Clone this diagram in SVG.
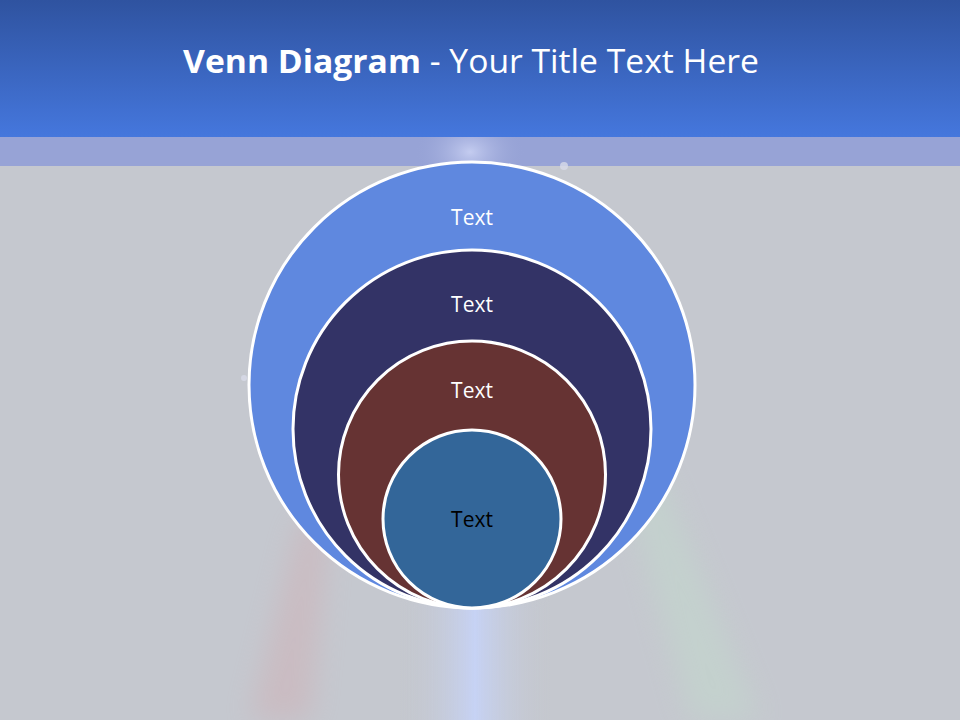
<svg xmlns="http://www.w3.org/2000/svg" width="960" height="720" viewBox="0 0 960 720">
<defs>
<linearGradient id="hdr" x1="0" y1="0" x2="0" y2="1">
<stop offset="0" stop-color="#2f53a0"/>
<stop offset="1" stop-color="#4577dd"/>
</linearGradient>
<radialGradient id="glow" cx="0.5" cy="0.5" r="0.5">
<stop offset="0" stop-color="#c4ccf0"/>
<stop offset="1" stop-color="#97a3d6" stop-opacity="0"/>
</radialGradient>
<linearGradient id="beam" x1="0" y1="0" x2="1" y2="0">
<stop offset="0" stop-color="#c5c8cf" stop-opacity="0"/>
<stop offset="0.5" stop-color="#c6d2f4"/>
<stop offset="1" stop-color="#c5c8cf" stop-opacity="0"/>
</linearGradient>
<linearGradient id="beamV" x1="0" y1="0" x2="0" y2="1">
<stop offset="0" stop-color="#fff" stop-opacity="0"/>
<stop offset="0.3" stop-color="#fff" stop-opacity="1"/>
<stop offset="1" stop-color="#fff" stop-opacity="1"/>
</linearGradient>
<mask id="bm"><rect x="400" y="560" width="150" height="160" fill="url(#beamV)"/></mask>
<clipPath id="band"><rect x="0" y="137" width="960" height="29"/></clipPath>
<filter id="soft" x="-50%" y="-50%" width="200%" height="200%"><feGaussianBlur stdDeviation="14"/></filter>
<style>
.ring{stroke:#ffffff;stroke-width:3}
.lbl{font-family:"Open Sans","Liberation Sans",sans-serif;font-size:21px;text-anchor:middle;dominant-baseline:central}
</style>
</defs>
<rect width="960" height="720" fill="#c5c8cf"/>
<rect x="400" y="560" width="150" height="160" fill="url(#beam)" mask="url(#bm)"/>
<path d="M300 520 L250 720 L310 720 L330 520 Z" fill="#d6a0a4" opacity="0.3" filter="url(#soft)"/>
<path d="M620 470 L690 720 L760 720 L660 470 Z" fill="#c2dccc" opacity="0.45" filter="url(#soft)"/>
<rect x="0" y="0" width="960" height="137" fill="url(#hdr)"/>
<rect x="0" y="137" width="960" height="29" fill="#97a3d6"/>
<ellipse cx="470" cy="152" rx="55" ry="40" fill="url(#glow)" clip-path="url(#band)"/>
<circle cx="564" cy="166" r="4" fill="#d8dbe8" opacity="0.8"/>
<circle cx="244" cy="378" r="3" fill="#d8dbe8" opacity="0.8"/>
<text x="471" y="73" font-family="Open Sans, Liberation Sans, sans-serif" font-size="32" fill="#ffffff" text-anchor="middle" textLength="576" lengthAdjust="spacingAndGlyphs"><tspan font-weight="bold">Venn Diagram</tspan> - Your Title Text Here</text>
<g id="ring1"><circle class="ring" cx="472" cy="385" r="223" fill="#5f88df"/><text class="lbl" x="472" y="217" fill="#ffffff">Text</text></g>
<g id="ring2"><circle class="ring" cx="472" cy="429" r="179" fill="#333366"/><text class="lbl" x="472" y="304" fill="#ffffff">Text</text></g>
<g id="ring3"><circle class="ring" cx="472" cy="474.5" r="133.5" fill="#663333"/><text class="lbl" x="472" y="390" fill="#ffffff">Text</text></g>
<g id="ring4"><circle class="ring" cx="472" cy="519" r="89" fill="#336699"/><text class="lbl" x="472" y="519" fill="#000000">Text</text></g>
<g id="connectors"/>
</svg>
